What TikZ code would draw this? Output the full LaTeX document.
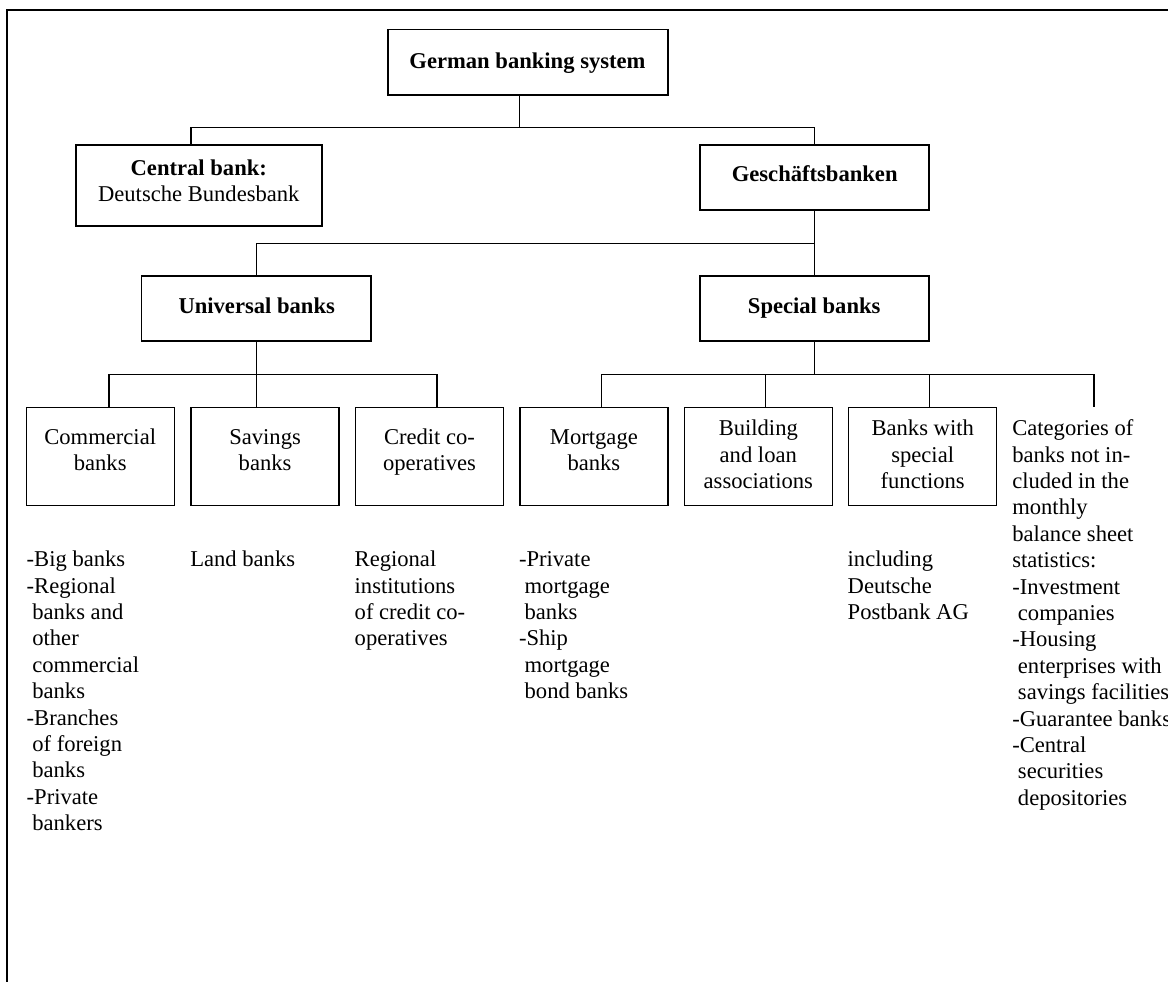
\documentclass[tikz,border=0pt]{standalone}
\usepackage{fontspec}
\setmainfont{Liberation Serif}
\newcommand\myind{\hspace*{0.25em}}
\newcommand\fs{\rule{0pt}{8pt}}
\begin{document}
\begin{tikzpicture}[x=0.5pt,y=-0.5pt,
  every node/.style={font=\fontsize{11.3}{13.2}\selectfont, inner sep=0pt, outer sep=0pt},
  box/.style={draw, line width=0.75pt, rectangle},
  topbox/.style={box, minimum height=32.5pt},
  lowbox/.style={box, minimum width=74pt, minimum height=49.2pt},
  txtc/.style={anchor=north, align=center},
  txtl/.style={anchor=north west, align=left},
  conn/.style={line width=0.6pt},
  frame/.style={line width=1pt}
]
\useasboundingbox (0,0) rectangle (1168,981);
% frame
\draw[frame] (7.3,990) -- (7.3,10) -- (1180,10);

% top level boxes
\node[box, minimum width=140pt, minimum height=32.85pt] (german) at (528,62.2) {};
\node[box, minimum width=123pt, minimum height=40.65pt] (central) at (199,185.4) {};
\node[topbox, minimum width=114.65pt] (gesch) at (814.5,177.5) {};
\node[topbox, minimum width=114.85pt] (universal) at (256.2,308.5) {};
\node[topbox, minimum width=114.5pt] (special) at (814.5,308.5) {};

\node[txtc, font=\fontsize{11.3}{13.2}\selectfont\bfseries] (tGerman) at (527.5,52.3) {\fs German banking system};
\node[txtc, font=\fontsize{11.3}{12.8}\selectfont] (tCentral) at (198.8,159.7) {\fs\textbf{Central bank:}\\Deutsche Bundesbank};
\node[txtc, font=\fontsize{11.3}{13.2}\selectfont\bfseries] (tGesch) at (814.7,165.7) {\fs Geschäftsbanken};
\node[txtc, font=\fontsize{11.3}{13.2}\selectfont\bfseries] (tUniversal) at (256.7,297.3) {\fs Universal banks};
\node[txtc, font=\fontsize{11.3}{13.2}\selectfont\bfseries] (tSpecial) at (814.2,297.3) {\fs Special banks};

% lower boxes
\node[lowbox] (commercial) at (100.7,456.5) {};
\node[lowbox] (savings) at (265.1,456.5) {};
\node[lowbox] (credit) at (429.5,456.5) {};
\node[lowbox] (mortgage) at (593.9,456.5) {};
\node[lowbox] (building) at (758.3,456.5) {};
\node[lowbox] (functions) at (922.7,456.5) {};

\node[txtc] (tCommercial) at (100.2,428.3) {\fs Commercial\\banks};
\node[txtc] (tSavings) at (265.1,428.3) {\fs Savings\\banks};
\node[txtc] (tCredit) at (429.5,428.3) {\fs Credit co-\\operatives};
\node[txtc] (tMortgage) at (593.9,428.3) {\fs Mortgage\\banks};
\node[txtc] (tBuilding) at (758.3,419.7) {\fs Building\\and loan\\associations};
\node[txtc] (tFunctions) at (922.7,419.7) {\fs Banks with\\special\\functions};

% lists
\node[txtl] (tBig) at (26.7,550.7) {\fs -Big banks\\-Regional\\\myind banks and\\\myind other\\\myind commercial\\\myind banks\\-Branches\\\myind of foreign\\\myind banks\\-Private\\\myind bankers};
\node[txtl] (tLand) at (190.3,550.7) {\fs Land banks};
\node[txtl] (tRegional) at (354.7,550.7) {\fs Regional\\institutions\\of credit co-\\operatives};
\node[txtl] (tPrivate) at (519,550.7) {\fs -Private\\\myind mortgage\\\myind banks\\-Ship\\\myind mortgage\\\myind bond banks};
\node[txtl] (tIncluding) at (847.7,550.7) {\fs including\\Deutsche\\Postbank AG};
\node[txtl] (tCategories) at (1012.3,419.7) {\fs Categories of\\banks not in-\\cluded in the\\monthly\\balance sheet\\statistics:\\-Investment\\\myind companies\\-Housing\\\myind enterprises with\\\myind savings facilities\\-Guarantee banks\\-Central\\\myind securities\\\myind depositories};

% connectors
\coordinate (jTop) at (519.3,127.7);
\coordinate (xCentral) at (191,0);
\draw[conn] (german.south -| jTop) -- (jTop);
\draw[conn] (central.north -| xCentral) |- (jTop) -| (gesch.north);

\coordinate (jMid) at (gesch.south |- 0,243.3);
\draw[conn] (gesch.south) -- (special.north);
\draw[conn] (universal.north) |- (jMid);

\coordinate (jUni) at (universal.south |- 0,374.3);
\coordinate (xCom) at (109,0);
\coordinate (xCre) at (437,0);
\draw[conn] (universal.south) -- (jUni);
\draw[conn] (commercial.north -| xCom) |- (jUni) -| (credit.north -| xCre);
\draw[conn] (savings.north -| jUni) -- (jUni);

\coordinate (jSpe) at (special.south |- 0,374.3);
\coordinate (xMor) at (601.4,0);
\coordinate (xBui) at (765.2,0);
\coordinate (xFun) at (929.8,0);
\coordinate (catEnd) at (1094,407.3);
\draw[conn] (special.south) -- (jSpe);
\draw[conn] (mortgage.north -| xMor) |- (jSpe) -| (catEnd);
\draw[conn] (building.north -| xBui) -- (xBui |- jSpe);
\draw[conn] (functions.north -| xFun) -- (xFun |- jSpe);
\end{tikzpicture}
\end{document}
